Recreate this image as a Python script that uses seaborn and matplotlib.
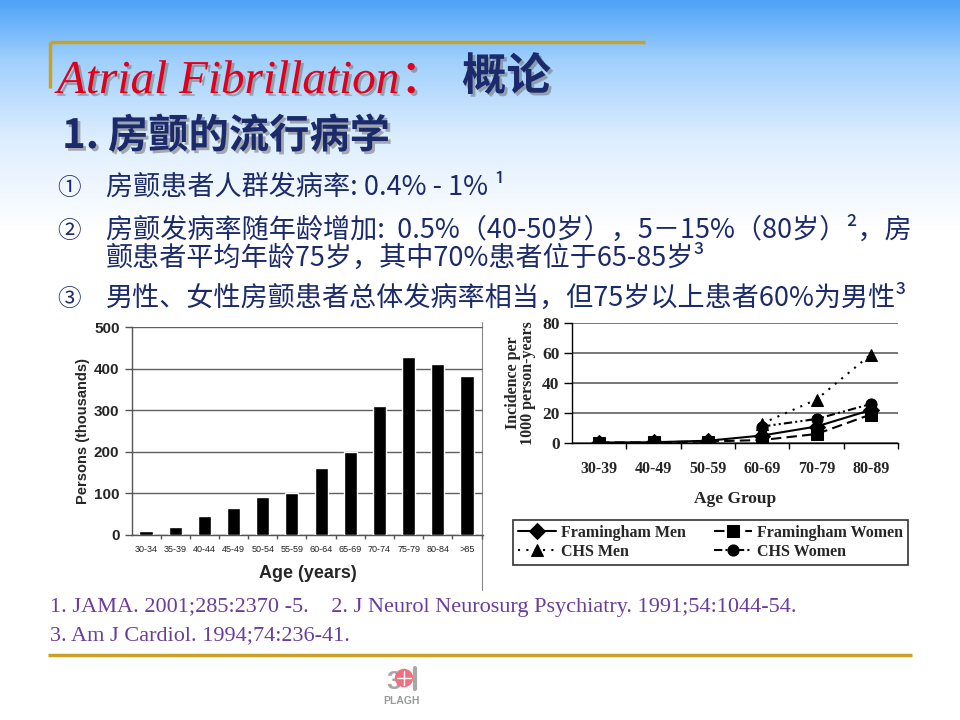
import numpy as np
import pandas as pd
import matplotlib
matplotlib.use("Agg")
import matplotlib.pyplot as plt
import matplotlib.patheffects as pe
import seaborn as sns

# ---------------- data ----------------
age_groups_bar = ['30-34', '35-39', '40-44', '45-49', '50-54', '55-59',
                  '60-64', '65-69', '70-74', '75-79', '80-84', '>85']
persons_thousands = [10, 20, 45, 66, 92, 100, 160, 200, 310, 427, 412, 383]

age_groups_line = ['30-39', '40-49', '50-59', '60-69', '70-79', '80-89']
framingham_men = [0.3, 0.5, 1.5, 5, 11, 22]
framingham_women = [0.3, 0.5, 1.0, 2, 6, 19]
chs_groups = ['60-69', '70-79', '80-89']
chs_men = [13, 29, 59]
chs_women = [11, 16, 26]

bar_yticks = [0, 100, 200, 300, 400, 500]
line_yticks = [0, 20, 40, 60, 80]

title_en = "Atrial Fibrillation："
title_cn = "概论"
subtitle = "1. 房颤的流行病学"
bullets = [
    ("①", "房颤患者人群发病率: 0.4% - 1% ¹"),
    ("②", "房颤发病率随年龄增加:  0.5%（40-50岁），5－15%（80岁）²，房"),
    ("", "颤患者平均年龄75岁，其中70%患者位于65-85岁³"),
    ("③", "男性、女性房颤患者总体发病率相当，但75岁以上患者60%为男性³"),
]
refs = ["1. JAMA. 2001;285:2370 -5.    2. J Neurol Neurosurg Psychiatry. 1991;54:1044-54.",
        "3. Am J Cardiol. 1994;74:236-41."]

# ---------------- style ----------------
sns.set_theme(style="white")
plt.rcParams['font.family'] = ['Noto Sans CJK SC', 'DejaVu Sans']

W, H = 960, 720
fig = plt.figure(figsize=(9.6, 7.2), dpi=100)

# background axes in pixel coordinates
bg = fig.add_axes([0, 0, 1, 1], zorder=0)
bg.set_xlim(0, W)
bg.set_ylim(H, 0)
bg.axis('off')
ys = np.arange(H)
stops_y = [0, 60, 140, 230, H]
stops_c = np.array([[78, 162, 248], [160, 208, 253], [222, 238, 254],
                     [255, 255, 255], [255, 255, 255]]) / 255.0
grad = np.stack([np.interp(ys, stops_y, stops_c[:, k]) for k in range(3)], axis=-1)
bg.imshow(grad[:, None, :], extent=(0, W, H, 0), aspect='auto', zorder=0)

gold = '#c9a225'
navy = '#1b2a6b'
bg.plot([50, 645], [42, 42], color=gold, lw=2.5, solid_capstyle='butt')
bg.plot([50, 50], [42, 88], color=gold, lw=2.5, solid_capstyle='butt')
bg.plot([48, 912], [655, 655], color=gold, lw=2.5, solid_capstyle='butt')

shadow = [pe.withSimplePatchShadow(offset=(2, -2), shadow_rgbFace='#7a7a7a', alpha=0.6)]
bg.text(57, 93, title_en, fontsize=34, color='#e0001b', style='italic',
        family=['Liberation Serif', 'Noto Sans CJK SC'], va='baseline', path_effects=shadow)
bg.text(462, 90, title_cn, fontsize=32, color=navy, fontweight='heavy',
        family=['Noto Sans CJK SC'], va='baseline', path_effects=shadow)
bg.text(62, 148, subtitle, fontsize=29, color=navy, fontweight='heavy', style='italic',
        family=['Noto Sans CJK SC'], va='baseline', path_effects=shadow)

line_y = [195, 238, 266, 306]
for (num, txt), y in zip(bullets, line_y):
    if num:
        bg.text(57, y, num, fontsize=17, color=navy, va='baseline',
                family=['Noto Sans CJK SC', 'DejaVu Sans'])
    bg.text(106, y, txt, fontsize=19.5, color=navy, va='baseline',
            family=['Noto Sans CJK SC', 'DejaVu Sans'])

ref_color = '#6a3d9a'
bg.text(50, 612, refs[0], fontsize=16, color=ref_color, va='baseline', family=['Liberation Serif'])
bg.text(50, 640, refs[1], fontsize=16, color=ref_color, va='baseline', family=['Liberation Serif'])

# logo (approximate)
bg.text(386, 689, "3", fontsize=19, color='#a8a8a8', fontweight='bold', va='baseline',
        family=['Liberation Sans'])
bg.add_patch(plt.Circle((404, 678), 8.5, color='#f07080', zorder=3))
bg.plot([404, 404], [671, 685], color='white', lw=1, zorder=4)
bg.plot([397, 411], [678, 678], color='white', lw=1, zorder=4)
bg.plot([415, 415], [668, 689], color='#a8a8a8', lw=3, zorder=3)
bg.text(402, 704, "PLAGH", fontsize=7.5, color='#9a9a9a', fontweight='bold', ha='center',
        va='baseline', family=['Liberation Sans'])

# left chart border line
bg.plot([482, 482], [322, 590], color='#888888', lw=0.8)

# ---------------- left bar chart ----------------
L, R, T, B = 132, 483, 327, 535
axL = fig.add_axes([L / W, 1 - B / H, (R - L) / W, (B - T) / H], zorder=2)
axL.patch.set_alpha(0)
df_bar = pd.DataFrame({'Age': age_groups_bar, 'Persons': persons_thousands})
sns.barplot(data=df_bar, x='Age', y='Persons', color='black', saturation=1,
            width=0.45, ax=axL, zorder=3)
axL.set_ylim(0, 500)
axL.set_xlim(-0.48, 11.55)
axL.set_yticks(bar_yticks)
axL.yaxis.grid(True, color='#606060', lw=1)
axL.set_axisbelow(True)
for s in ['top', 'right']:
    axL.spines[s].set_visible(False)
for s in ['left', 'bottom']:
    axL.spines[s].set_color('#555555')
    axL.spines[s].set_linewidth(1)
axL.tick_params(axis='y', left=True, length=5, width=1, color='#555555', pad=4,
                labelsize=11)
for lab in axL.get_yticklabels():
    lab.set_fontweight('bold')
    lab.set_family(['Liberation Sans'])
axL.set_xticks(range(len(age_groups_bar)))
axL.set_xticklabels(age_groups_bar, fontsize=6.5, family=['Liberation Sans'], color='#222222')
axL.set_xticks([i + 0.5 for i in range(len(age_groups_bar))], minor=True)
axL.tick_params(axis='x', which='major', length=0, pad=7)
axL.tick_params(axis='x', which='minor', bottom=True, length=3, width=1, color='#555555')
axL.set_xlabel('Age (years)', fontsize=13, fontweight='bold', family=['Liberation Sans'],
               labelpad=8)
axL.set_ylabel('Persons (thousands)', fontsize=10.5, fontweight='bold',
               family=['Liberation Sans'], labelpad=3)

# ---------------- right line chart ----------------
L2, R2, T2, B2 = 572, 898, 323, 443
axR = fig.add_axes([L2 / W, 1 - B2 / H, (R2 - L2) / W, (B2 - T2) / H], zorder=2)
axR.patch.set_alpha(0)

records = []
for name, groups, vals in [('Framingham Men', age_groups_line, framingham_men),
                           ('Framingham Women', age_groups_line, framingham_women),
                           ('CHS Men', chs_groups, chs_men),
                           ('CHS Women', chs_groups, chs_women)]:
    for g, v in zip(groups, vals):
        records.append({'Series': name, 'pos': age_groups_line.index(g), 'Incidence': v})
df_line = pd.DataFrame(records)
order = ['Framingham Men', 'Framingham Women', 'CHS Men', 'CHS Women']
sns.lineplot(data=df_line, x='pos', y='Incidence', hue='Series', style='Series',
             hue_order=order, style_order=order,
             palette={k: 'black' for k in order},
             markers={'Framingham Men': 'D', 'Framingham Women': 's',
                      'CHS Men': '^', 'CHS Women': 'o'},
             dashes={'Framingham Men': '', 'Framingham Women': (5, 2.5),
                     'CHS Men': (1, 3), 'CHS Women': (4, 1.5, 1, 1.5, 1, 1.5)},
             markersize=8, linewidth=1.5, markeredgecolor='black', ax=axR, zorder=3)
handles, labels = axR.get_legend_handles_labels()
if axR.get_legend() is not None:
    axR.get_legend().remove()
hmap = dict(zip(labels, handles))
leg_order = ['Framingham Men', 'CHS Men', 'Framingham Women', 'CHS Women']  # row-wise display

axR.set_xlim(-0.5, 5.5)
axR.set_ylim(0, 80)
axR.set_yticks(line_yticks)
axR.yaxis.grid(True, color='#606060', lw=1.2)
axR.set_axisbelow(True)
for s in ['top', 'right']:
    axR.spines[s].set_visible(False)
for s in ['left', 'bottom']:
    axR.spines[s].set_color('black')
    axR.spines[s].set_linewidth(1)
axR.set_xticks(range(len(age_groups_line)))
axR.set_xticklabels(age_groups_line)
axR.set_xticks([i + 0.5 for i in range(len(age_groups_line))], minor=True)
axR.tick_params(axis='x', which='major', length=0, pad=13, labelsize=11.5)
axR.tick_params(axis='x', which='minor', bottom=True, length=4, width=1, color='black')
axR.tick_params(axis='y', left=True, length=6, width=1, color='black', pad=3, labelsize=12.5)
for lab in axR.get_xticklabels() + axR.get_yticklabels():
    lab.set_fontweight('bold')
    lab.set_family(['Liberation Serif'])
axR.set_xlabel('Age Group', fontsize=12.5, fontweight='bold', family=['Liberation Serif'],
               labelpad=10)
axR.set_ylabel('Incidence per\n1000 person-years', fontsize=11.5, fontweight='bold',
               family=['Liberation Serif'], labelpad=4, linespacing=0.95)

leg = fig.legend([hmap[k] for k in leg_order], leg_order, ncol=2, loc='upper left',
                 bbox_to_anchor=(513 / W, 1 - 573 / H, (908 - 513) / W, (573 - 520) / H),
                 mode='expand', frameon=True, fancybox=False, edgecolor='black',
                 prop={'family': 'Liberation Serif', 'weight': 'bold', 'size': 11.5},
                 handlelength=2.4, handletextpad=0.3, borderpad=0.3, labelspacing=0.2,
                 columnspacing=0.8, borderaxespad=0)
leg.get_frame().set_linewidth(1.2)
leg.set_zorder(5)

fig.savefig("out.png", dpi=100)
